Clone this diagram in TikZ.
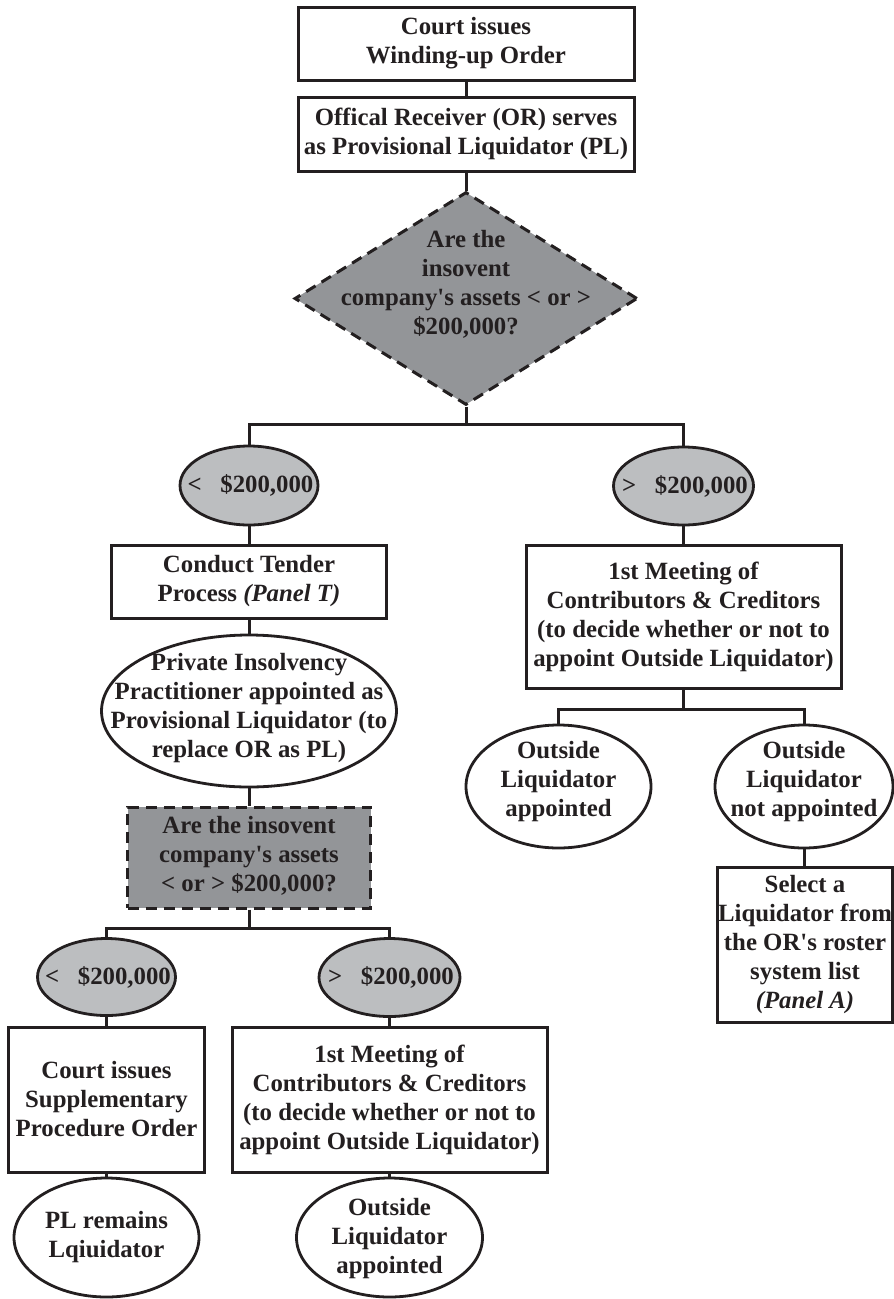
\documentclass[tikz,border=0pt]{standalone}
\usepackage{fontspec}
\setmainfont{Liberation Serif}[Ligatures=TeXOff]
\usetikzlibrary{shapes.geometric}
\definecolor{ink}{HTML}{231F20}
\definecolor{darkfill}{HTML}{939598}
\definecolor{lightfill}{HTML}{BCBEC0}
\begin{document}
\begin{tikzpicture}[x=1pt,y=-1pt,
  txt/.style={font=\fontsize{24.8}{29}\selectfont\bfseries, align=center, text=ink, inner sep=0pt},
  rbox/.style={rectangle, draw=ink, line width=3pt, fill=white, inner sep=0pt, txt},
  oval/.style={ellipse, draw=ink, line width=2.8pt, fill=white, inner sep=0pt},
  goval/.style={oval, fill=lightfill},
  dashedge/.style={draw=ink, line width=3pt, dash pattern=on 11pt off 7pt, fill=darkfill, inner sep=0pt},
  conn/.style={draw=ink, line width=3pt}]
\useasboundingbox (0,0) rectangle (894,1299);

% top
\node[rbox, minimum width=336pt, minimum height=73pt] (b1) at (466,43.5) {Court issues\\Winding-up Order};
\node[rbox, minimum width=336pt, minimum height=74pt] (b2) at (466,134) {Offical Receiver (OR) serves\\as Provisional Liquidator (PL)};
\node[diamond, dashedge, minimum width=343pt, minimum height=213pt] (dia) at (466,298.5) {};
\node[txt] (diat) at (466,284) {Are the\\insovent\\company's assets < or >\\\$200,000?};

% first split
\node[goval, minimum width=138pt, minimum height=79pt] (eL1) at (249,485.5) {};
\node[txt] (eL1t) at (250.5,485.5) {<\hspace{0.75em}\$200,000};
\node[goval, minimum width=140pt, minimum height=78pt] (eR1) at (683.5,486) {};
\node[txt] (eR1t) at (685,486) {>\hspace{0.75em}\$200,000};

% left branch
\node[rbox, minimum width=275pt, minimum height=73pt] (bCT) at (249,581.5) {Conduct Tender\\Process \textit{(Panel T)}};
\node[oval, minimum width=295pt, minimum height=152pt] (ePIP) at (249,711) {};
\node[txt] (ePIPt) at (249,708.5) {Private Insolvency\\Practitioner appointed as\\Provisional Liquidator (to\\replace OR as PL)};
\node[rectangle, dashedge, minimum width=243pt, minimum height=101pt] (dr) at (249,857.5) {};
\node[txt] (drt) at (249,856) {Are the insovent\\company's assets\\< or > \$200,000?};

\node[goval, minimum width=138pt, minimum height=77pt] (eL2) at (106.5,977) {};
\node[txt] (eL2t) at (108,977) {<\hspace{0.75em}\$200,000};
\node[goval, minimum width=141pt, minimum height=78pt] (eR2) at (389.5,977.5) {};
\node[txt] (eR2t) at (391,977.5) {>\hspace{0.75em}\$200,000};

\node[rbox, minimum width=196pt, minimum height=145pt] (bSPO) at (106.5,1099.5) {Court issues\\Supplementary\\Procedure Order};
\node[rbox, minimum width=315pt, minimum height=145pt] (bM2) at (389.5,1099.5) {1st Meeting of\\Contributors \& Creditors\\(to decide whether or not to\\appoint Outside Liquidator)};
\node[oval, minimum width=185pt, minimum height=119pt] (ePL) at (106.5,1237.5) {};
\node[txt] (ePLt) at (106.5,1237.5) {PL remains\\Lqiuidator};
\node[oval, minimum width=186pt, minimum height=119pt] (eOL2) at (389.5,1237.5) {};
\node[txt] (eOL2t) at (389.5,1239) {Outside\\Liquidator\\appointed};

% right branch
\node[rbox, minimum width=315pt, minimum height=143pt] (bM1) at (683.5,616.5) {1st Meeting of\\Contributors \& Creditors\\(to decide whether or not to\\appoint Outside Liquidator)};
\node[oval, minimum width=185pt, minimum height=123pt] (eOLa) at (558.5,786.5) {};
\node[txt] (eOLat) at (558.5,781.5) {Outside\\Liquidator\\appointed};
\node[oval, minimum width=178pt, minimum height=123pt] (eOLn) at (804,786.5) {};
\node[txt] (eOLnt) at (804,781.5) {Outside\\Liquidator\\not appointed};
\node[rbox, minimum width=175pt, minimum height=155pt] (bSel) at (805,944.5) {Select a\\Liquidator from\\the OR's roster\\system list\\\textit{(Panel A)}};

% connectors
\coordinate (j1) at (466,424);
\coordinate (j2) at (249,928);
\coordinate (j3) at (683.5,709);
\draw[conn] (b1.south) -- (b2.north);
\draw[conn] (b2.south) -- (dia.north);
\draw[conn] (dia.south) -- (j1);
\draw[conn] (eL1.north) |- (j1) -| (eR1.north);
\draw[conn] (eL1.south) -- (bCT.north);
\draw[conn] (bCT.south) -- (ePIP.north);
\draw[conn] (ePIP.south) -- (dr.north);
\draw[conn] (dr.south) -- (j2);
\draw[conn] (eL2.north) |- (j2) -| (eR2.north);
\draw[conn] (eL2.south) -- (bSPO.north);
\draw[conn] (bSPO.south) -- (ePL.north);
\draw[conn] (eR2.south) -- (bM2.north);
\draw[conn] (bM2.south) -- (eOL2.north);
\draw[conn] (eR1.south) -- (bM1.north);
\draw[conn] (bM1.south) -- (j3);
\draw[conn] (eOLa.north) |- (j3) -| (eOLn.north);
\draw[conn] (eOLn.south) -- (eOLn.south |- bSel.north);
\end{tikzpicture}
\end{document}
